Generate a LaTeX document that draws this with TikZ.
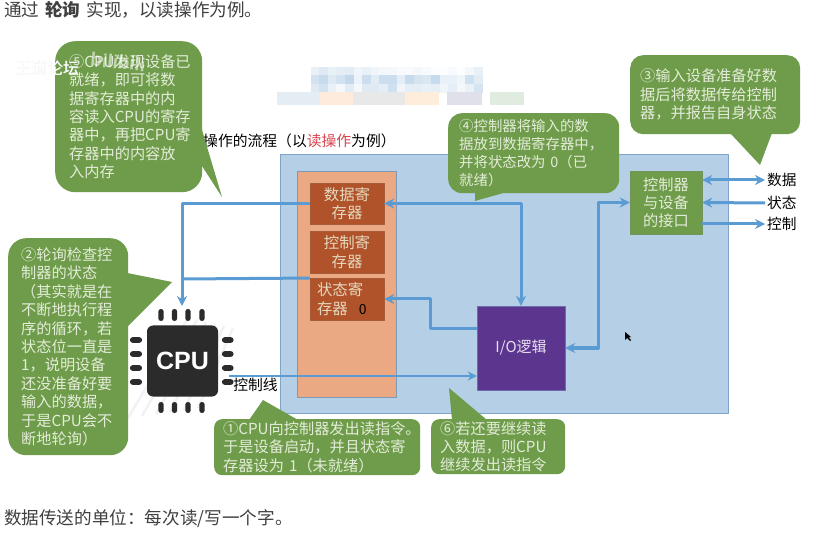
\documentclass[tikz,border=0pt]{standalone}
\usepackage{fontspec}
\setmainfont{Noto Sans CJK SC}
\newfontfamily\chipfont{Liberation Sans}
\usepackage{xcolor}
\usetikzlibrary{arrows.meta}
\definecolor{panelblue}{HTML}{B5CFE7}
\definecolor{paneledge}{HTML}{7FA3C9}
\definecolor{bankorange}{HTML}{EBA983}
\definecolor{regbrown}{HTML}{B0532A}
\definecolor{leafgreen}{HTML}{6F9C4A}
\definecolor{softtext}{HTML}{E3ECD8}
\definecolor{iopurple}{HTML}{5C358F}
\definecolor{linkblue}{HTML}{5B9BD3}
\definecolor{chipdark}{HTML}{2B2B2B}
\definecolor{redword}{HTML}{D9434E}
\tikzset{
  every picture/.style={line join=round},
  >={Stealth[length=10pt,width=10pt]},
  bubble/.style={fill=leafgreen, text=softtext, align=left, inner ysep=0pt,
    font=\fontsize{15.2}{18.4}\selectfont},
  regbox/.style={fill=regbrown, draw=regbrown!80!gray, text=softtext!70!bankorange, align=left,
    minimum width=74pt, minimum height=41.5pt, inner sep=0pt,
    font=\fontsize{15.4}{18.4}\selectfont},
  link/.style={draw=linkblue, line width=3pt},
  devlabel/.style={anchor=west, inner sep=2pt, font=\fontsize{14.7}{16}\selectfont},
  chippin/.style={fill=chipdark, rounded corners=2.6pt},
}
\begin{document}
\begin{tikzpicture}[x=1pt,y=-1pt]
    \useasboundingbox (0,0) rectangle (814,537);
    \fill[white] (0,0) rectangle (814,537);
    % Page Text
    \node[anchor=west, inner sep=0pt, font=\fontsize{17.6}{20}\selectfont, text=black!75] (toptext) at (4,9.5) {通过\hspace{6pt}\textbf{轮询}\hspace{6pt}实现，以读操作为例。};
    \node[anchor=west, inner sep=0pt, font=\fontsize{17.6}{20}\selectfont, text=black!75] (bottomtext) at (4,519) {数据传送的单位：每次读/写一个字。};
    % Blurred Patch
    \foreach \yy/\shades in {67/{30,45,30,35,40,20,30,20,15,15,10,10,15,10,5,5,10,5,15,30,0},
                             75/{60,75,45,60,80,25,70,40,70,70,35,75,55,50,75,30,30,20,65,40,0},
                             84/{45,60,30,15,40,15,45,45,35,65,20,35,35,30,35,20,35,15,30,55,0}}{
      \foreach \s [count=\i] in \shades {
        \fill[panelblue!\s!white] ({302+8.6*\i},\yy) rectangle ++(8.6,8.6);
      }
    }
    \fill[paneledge!20!white] (277,92) rectangle (320,105);
    \fill[red!14!orange!14!white] (320,92) rectangle (353,105);
    \fill[gray!18] (353,92) rectangle (405,105);
    \fill[orange!14!white] (405,92) rectangle (439,105);
    \fill[blue!20!gray!20!white] (447,92) rectangle (482,105);
    \fill[green!25!gray!20!white] (490,92) rectangle (524,105);
    % Title
    \node[anchor=west, inner sep=0pt, font=\fontsize{14.8}{16}\selectfont] (title) at (203,141) {操作的流程（以{\color{redword}读操作}为例）};
    % Controller Panel
    \node[fill=panelblue, draw=paneledge, anchor=north west, minimum width=448pt, minimum height=259pt, inner sep=0pt] (panel) at (280,154) {};
    \node[fill=bankorange, draw=paneledge!70!gray, anchor=north west, minimum width=99pt, minimum height=226pt, inner sep=0pt] (bank) at (297,171) {};
    \node[regbox, align=center] (datareg) at (347,203.5) {数据寄\\存器};
    \node[regbox, align=center] (ctrlreg) at (347,252) {控制寄\\存器};
    \node[regbox, text width=60pt, inner xsep=7pt] (statusreg) at (347,299) {状态寄\\存器\hspace{11pt}{\color{black}\fontsize{14}{16}\selectfont 0}};
    \node[fill=iopurple, draw=paneledge!50!iopurple, text=white!85!iopurple, minimum width=88pt, minimum height=84pt, inner sep=0pt, font=\fontsize{15}{18}\selectfont] (io) at (521,348) {I/O逻辑};
    \node[fill=leafgreen, draw=leafgreen!70!gray, text=softtext, align=center, minimum width=72pt, minimum height=63pt, inner sep=0pt, font=\fontsize{15.2}{18.2}\selectfont] (iface) at (666,202.5) {控制器\\与设备\\的接口};
    % Device Lines
    \node[devlabel] (devdata) at (765,180) {数据};
    \node[devlabel] (devstate) at (765,203) {状态};
    \node[devlabel] (devctrl) at (765,224) {控制};
    \draw[link,<->] (devdata.west -| iface.east) -- (devdata.west);
    \draw[link,<-] (iface.east) -- (devstate.west);
    \draw[link,->] (devctrl.west -| iface.east) -- (devctrl.west);
    % CPU Chip
    \foreach \k in {0,...,5}{
      \draw[gray!10, line width=2.5pt] ({128+\k*14},{418-\k*2}) -- ({188+\k*9},{318+\k*2});
    }
    \node[fill=chipdark, rounded corners=6pt, minimum size=71pt, inner sep=0pt, text=white, font=\chipfont\fontsize{25}{25}\selectfont\bfseries] (cpu) at (182.5,361) {CPU};
    \foreach \xx in {161,174.5,188,202}{
      \fill[chippin] ({\xx-2.7},309) rectangle ({\xx+2.7},321);
      \fill[chippin] ({\xx-2.7},402) rectangle ({\xx+2.7},413);
    }
    \foreach \yy in {340,354,368,382}{
      \fill[chippin] (130,{\yy-2.8}) rectangle (142,{\yy+2.8});
      \fill[chippin] (222,{\yy-2.8}) rectangle (233.5,{\yy+2.8});
    }
    % Connectors
    \coordinate (cputop) at (182,306);
    \coordinate (busjoin) at (182,279);
    \coordinate (iostate) at (477,329);
    \coordinate (cpuout) at (229,376);
    \draw[link,->] (datareg.west) -| (cputop);
    \draw[link] (statusreg.north west) -- (busjoin);
    \draw[link,->] (iostate) -- (430,329) |- (statusreg.east);
    \draw[link,<->] (datareg.east) -| (io.north);
    \draw[link,<->] (io.east) -- ++(33,0) |- (iface.west);
    \draw[draw=linkblue, line width=2.4pt, -{Stealth[length=9pt,width=9pt]}] (cpuout) -- (cpuout -| io.west);
    \node[inner sep=0pt, font=\fontsize{14.8}{16}\selectfont] (ctrlline) at (255.5,385) {控制线};
    % Cursor
    \fill[black] (625,332) -- (625,340) -- (627,338) -- (630,341) -- (631,340) -- (628.5,337.5) -- (631,337) -- cycle;
    % Callouts
    \fill[leafgreen] (202,130) -- (222,197) -- (202,166) -- cycle;
    \node[bubble, rounded corners=20pt, anchor=north west, minimum width=147pt, minimum height=151pt, text width=119pt, inner xsep=14pt] (step5) at (55,41)
      {⑤CPU发现设备已\\就绪，即可将数\\据寄存器中的内\\容读入CPU的寄存\\器中，再把CPU寄\\存器中的内容放\\入内存};
    \fill[leafgreen] (127,273) -- (172,282) -- (127,327) -- cycle;
    \node[bubble, rounded corners=18pt, anchor=north west, minimum width=120pt, minimum height=217pt, text width=94pt, inner xsep=13pt] (step2) at (8,238)
      {②轮询检查控\\制器的状态\\（其实就是在\\不断地执行程\\序的循环，若\\状态位一直是\\1，说明设备\\还没准备好要\\输入的数据，\\于是CPU会不\\断地轮询）};
    \fill[leafgreen] (475,192) -- (475,201) -- (507,192) -- cycle;
    \node[bubble, rounded corners=14pt, anchor=north west, minimum width=171pt, minimum height=80pt, text width=149pt, inner xsep=11pt, font=\fontsize{14.4}{18}\selectfont] (step4) at (448,113)
      {④控制器将输入的数\\据放到数据寄存器中，\\并将状态改为 0（已\\就绪）};
    \fill[leafgreen] (730,133) -- (760,165) -- (772,133) -- cycle;
    \node[bubble, rounded corners=13pt, anchor=north west, minimum width=170pt, minimum height=79pt, text width=150pt, inner xsep=10pt] (step3) at (630,55)
      {③输入设备准备好数\\据后将数据传给控制\\器，并报告自身状态};
    \fill[leafgreen] (249,420) -- (263,400) -- (298,420) -- cycle;
    \node[bubble, rounded corners=8pt, anchor=north west, minimum width=206pt, minimum height=56pt, text width=188pt, inner xsep=9pt] (step1) at (214,419)
      {①CPU向控制器发出读指令。\\于是设备启动，并且状态寄\\存器设为 1（未就绪）};
    \fill[leafgreen] (452,420) -- (449,388) -- (487,420) -- cycle;
    \node[bubble, rounded corners=8pt, anchor=north west, minimum width=134pt, minimum height=55pt, text width=116pt, inner xsep=9pt] (step6) at (431,419)
      {⑥若还要继续读\\入数据，则CPU\\继续发出读指令};
    % Watermark
    \node[text=gray!18, inner sep=0pt, font=\fontsize{16}{18}\selectfont] (markshade) at (47.5,68.5) {王道论坛};
    \node[text=white, inner sep=0pt, font=\fontsize{16}{18}\selectfont] (markname) at (47,68) {王道论坛};
    \node[text=white, opacity=0.55, inner sep=0pt, rotate=-6, font=\chipfont\fontsize{19}{20}\selectfont\bfseries] (marklogo) at (118,62) {bilibili};
\end{tikzpicture}
\end{document}
